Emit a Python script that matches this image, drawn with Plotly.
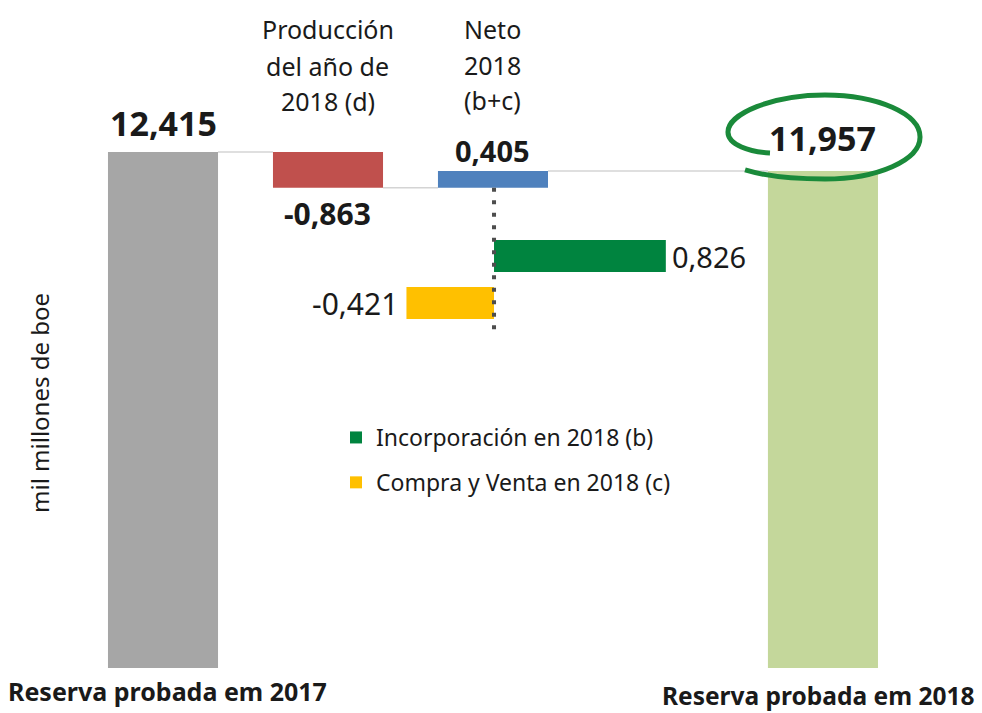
import plotly.graph_objects as go

# ---------------- data ----------------
categories = ["Reserva probada em 2017", "Producción del año de 2018 (d)",
              "Neto 2018 (b+c)", "Reserva probada em 2018"]
reserva_2017 = 12.415
produccion_2018 = -0.863
neto_2018 = 0.405
reserva_2018 = 11.957
componentes = ["Incorporación en 2018 (b)", "Compra y Venta en 2018 (c)"]
incorporacion_2018 = 0.826
compra_venta_2018 = -0.421
value_labels = ["12,415", "-0,863", "0,405", "11,957", "0,826", "-0,421"]

# ---------------- layout helpers ----------------
W, H = 982, 713
FONT = "Noto Sans"
TXT = "#1a1a1a"
pos = [0, 1, 2, 4]          # slot positions of the vertical bars
BW = 0.667                  # vertical bar width (slot units)
HBW = 0.68                  # horizontal bar width


def px(x):
    return x / W


def py(y):
    return 1 - y / H


after_prod = reserva_2017 + produccion_2018

fig = go.Figure()

# vertical waterfall bars
fig.add_trace(go.Bar(x=[pos[0]], y=[reserva_2017], base=[0], width=BW,
                     marker=dict(color="#a6a6a6", line=dict(width=0)),
                     showlegend=False, hoverinfo="skip"))
fig.add_trace(go.Bar(x=[pos[1]], y=[produccion_2018], base=[reserva_2017], width=BW,
                     marker=dict(color="#c0504d", line=dict(width=0)),
                     showlegend=False, hoverinfo="skip"))
fig.add_trace(go.Bar(x=[pos[2]], y=[neto_2018], base=[after_prod], width=BW,
                     marker=dict(color="#4f81bd", line=dict(width=0)),
                     showlegend=False, hoverinfo="skip"))
fig.add_trace(go.Bar(x=[pos[3]], y=[reserva_2018], base=[0], width=BW,
                     marker=dict(color="#c4d79b", line=dict(width=0)),
                     showlegend=False, hoverinfo="skip"))

# horizontal components of the net change
fig.add_trace(go.Bar(y=[1], x=[incorporacion_2018], base=[0], width=HBW,
                     orientation="h", xaxis="x2", yaxis="y2",
                     name=componentes[0],
                     marker=dict(color="#00843f", line=dict(width=0)),
                     legendgroup="b", hoverinfo="skip"))
fig.add_trace(go.Bar(y=[0], x=[compra_venta_2018], base=[0], width=HBW,
                     orientation="h", xaxis="x2", yaxis="y2",
                     name=componentes[1],
                     marker=dict(color="#ffc000", line=dict(width=0)),
                     legendgroup="c", hoverinfo="skip"))

shapes = []
conn = dict(color="#d4d4d4", width=1.5)
shapes.append(dict(type="line", xref="x", yref="y", x0=pos[0] + BW / 2, x1=pos[1] - BW / 2,
                   y0=reserva_2017, y1=reserva_2017, line=conn, layer="below"))
shapes.append(dict(type="line", xref="x", yref="y", x0=pos[1] + BW / 2, x1=pos[2] - BW / 2,
                   y0=after_prod, y1=after_prod, line=conn, layer="below"))
shapes.append(dict(type="line", xref="x", yref="y", x0=pos[2] + BW / 2, x1=pos[3] - BW / 2,
                   y0=after_prod + neto_2018, y1=after_prod + neto_2018, line=conn, layer="below"))
# dotted axis of the horizontal components
shapes.append(dict(type="line", xref="x2", yref="y", x0=0, x1=0,
                   y0=after_prod, y1=8.1,
                   line=dict(color="#4d4d4d", width=4, dash="4px,8.5px"), layer="above"))

# hand-drawn style ellipse around final value
pts = [(745, 170), (765, 176), (795, 179), (825, 179),
       (877.5, 179), (920, 160.2), (920, 137),
       (920, 113.8), (877.5, 95), (825, 95),
       (772.5, 95), (728, 113.8), (728, 132),
       (728, 145), (750, 152), (770, 153)]
path = "M{:.4f},{:.4f}".format(px(pts[0][0]), py(pts[0][1]))
for i in range(1, len(pts), 3):
    a, b, c = pts[i], pts[i + 1], pts[i + 2]
    path += " C{:.4f},{:.4f} {:.4f},{:.4f} {:.4f},{:.4f}".format(
        px(a[0]), py(a[1]), px(b[0]), py(b[1]), px(c[0]), py(c[1]))
shapes.append(dict(type="path", xref="paper", yref="paper", path=path,
                   line=dict(color="#1a8a3a", width=5)))

ann = []


def A(**kw):
    d = dict(showarrow=False, xanchor="center", yanchor="middle",
             font=dict(family=FONT, color=TXT, size=22))
    f = kw.pop("font", None)
    if f:
        d["font"].update(f)
    d.update(kw)
    ann.append(d)


bold = lambda s: "<b>" + s + "</b>"
# value labels
A(x=pos[0], y=reserva_2017, xref="x", yref="y", text=bold(value_labels[0]),
  yanchor="bottom", yshift=4, font=dict(size=34))
A(x=pos[1], y=after_prod, xref="x", yref="y", text=bold(value_labels[1]),
  yanchor="top", yshift=-3, font=dict(size=30))
A(x=pos[2], y=after_prod + neto_2018, xref="x", yref="y", text=bold(value_labels[2]),
  yanchor="bottom", yshift=-1, font=dict(size=29))
A(x=pos[3], y=reserva_2018, xref="x", yref="y", text=bold(value_labels[3]),
  yanchor="bottom", yshift=8, font=dict(size=34))
A(x=incorporacion_2018, y=1, xref="x2", yref="y2", text=value_labels[4],
  xanchor="left", xshift=4, font=dict(size=29))
A(x=compra_venta_2018, y=0, xref="x2", yref="y2", text=value_labels[5],
  xanchor="right", xshift=-6, font=dict(size=30))

# category headers (one annotation per line to match line spacing)
for i, line in enumerate(["Producción", "del año de", "2018 (d)"]):
    A(x=pos[1], xref="x", y=py([29, 66, 101][i]), yref="paper", text=line,
      font=dict(size=25))
for i, line in enumerate(["Neto", "2018", "(b+c)"]):
    A(x=pos[2], xref="x", y=py([29, 65, 100][i]), yref="paper", text=line,
      font=dict(size=25))

# bottom labels
A(x=px(167), xref="paper", y=py(691), yref="paper", text=bold(categories[0]),
  font=dict(size=25))
A(x=px(818), xref="paper", y=py(695), yref="paper", text=bold(categories[3]),
  font=dict(size=24.5))

# y axis title
A(x=px(40), y=py(403), xref="paper", yref="paper", text="mil millones de boe",
  textangle=-90, font=dict(size=24))

fig.update_layout(
    width=W, height=H,
    margin=dict(l=0, r=0, t=0, b=0),
    paper_bgcolor="white", plot_bgcolor="white",
    barmode="overlay",
    xaxis=dict(range=[-0.988, 4.964], visible=False, fixedrange=True),
    yaxis=dict(range=[-1.083, 16.07], visible=False, fixedrange=True),
    xaxis2=dict(range=[-2.375, 2.346], overlaying="x", visible=False, fixedrange=True),
    yaxis2=dict(range=[-8.72, 6.447], overlaying="y", visible=False, fixedrange=True),
    shapes=shapes,
    annotations=ann,
    legend=dict(x=px(336), y=py(416), xanchor="left", yanchor="top",
                font=dict(family=FONT, size=23, color=TXT),
                bgcolor="rgba(0,0,0,0)", traceorder="grouped",
                tracegroupgap=12, itemwidth=30),
    font=dict(family=FONT),
)

fig.write_html("out.html", config={"displayModeBar": False},
               post_script="document.body.style.margin='0';"
                           "document.body.style.overflow='hidden';")
